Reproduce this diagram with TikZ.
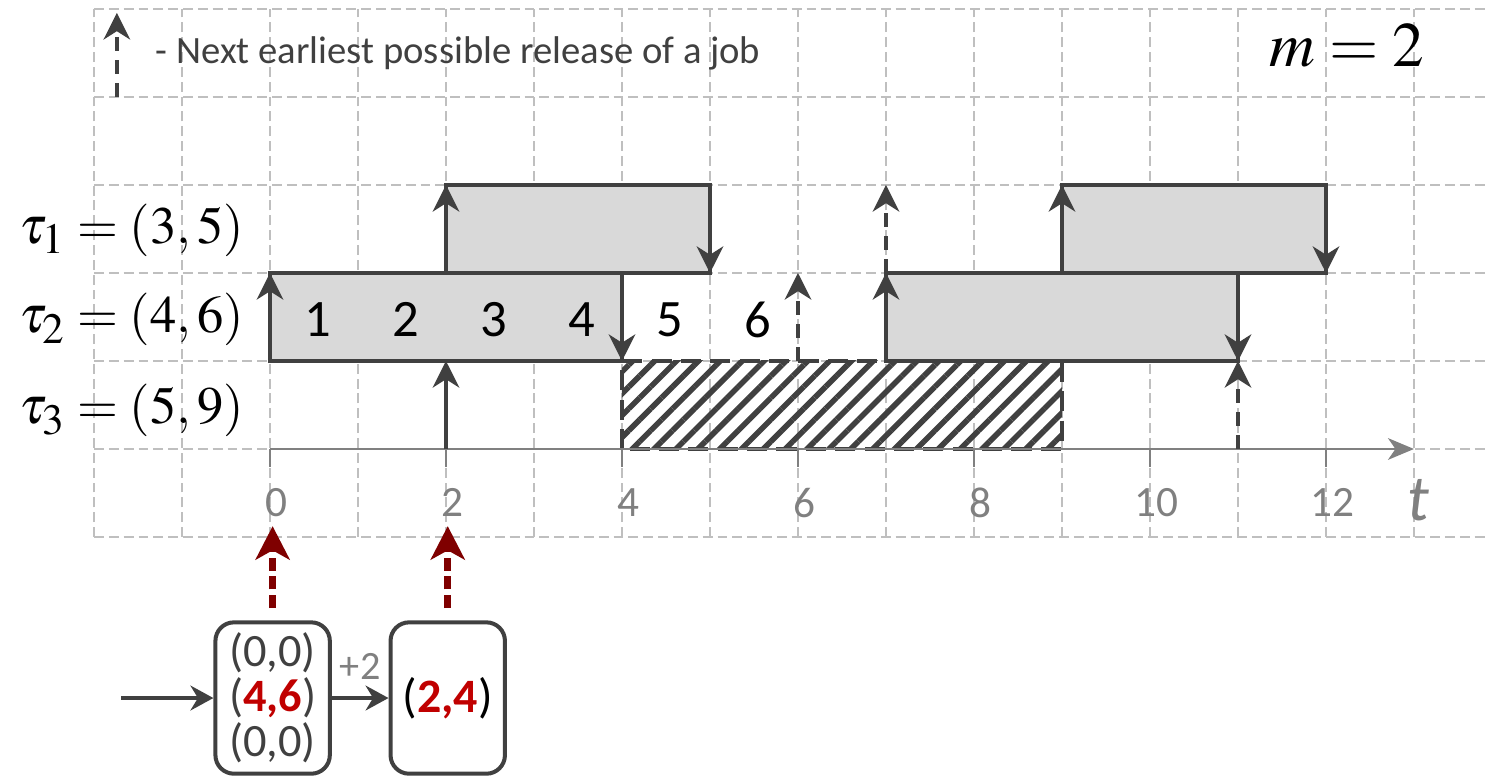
\documentclass[tikz,border=0pt]{standalone}
\usepackage{mathptmx}
\usepackage[no-math]{fontspec}
\setmainfont{Carlito}
\DeclareMathSizes{17}{17}{14}{10}
\usetikzlibrary{arrows.meta,patterns.meta,positioning}
\definecolor{ink}{HTML}{404040}
\definecolor{gridgray}{HTML}{BFBFBF}
\definecolor{axisgray}{HTML}{808080}
\definecolor{jobfill}{HTML}{D9D9D9}
\definecolor{darkred}{HTML}{7F0000}
\definecolor{hired}{HTML}{C00000}
\newcommand{\tasklab}[3]{{\fontsize{17}{20}\selectfont$\tau_{#1}=(#2{,}\,#3)$}}

\begin{document}
\begin{tikzpicture}[x=1cm,y=1cm,
  tip/.style={-{Stealth[length=8.6pt,width=8.6pt,inset=2.7pt]}},
  gridline/.style={gridgray,line width=0.7pt,dash pattern=on 3.2pt off 1.6pt},
  job/.style={draw=ink,line width=1.3pt,fill=jobfill},
  rel/.style={ink,line width=1.1pt,tip},
  nextrel/.style={rel,dash pattern=on 4.5pt off 3pt},
  state/.style={draw=ink,line width=1.3pt,rounded corners=6pt,minimum width=1.3cm,minimum height=1.72cm,align=center,inner sep=1pt,text=ink},
  flow/.style={ink,line width=1.3pt,-{Stealth[length=7.4pt,width=8pt,inset=2.4pt]}},
  jump/.style={darkred,line width=2.2pt,dash pattern=on 4.2pt off 1.8pt,-{Stealth[length=10.8pt,width=11pt,inset=3pt]}}]
\useasboundingbox (-3.068,-3.705) rectangle (13.841,5.102);
% grid
\foreach \y in {-1,...,5}{\draw[gridline] (-2,\y)--(13.841,\y);}
\foreach \x in {-2,...,13}{\draw[gridline] (\x,-1)--(\x,5);}
% blocked interval of tau_3
\fill[pattern={Lines[angle=45,distance=5pt,line width=1.8pt]},pattern color=ink] (4,0) rectangle (9,1);
\draw[ink,line width=1.3pt,dash pattern=on 6.5pt off 3pt] (4,0) rectangle (9,1);
% time axis
\draw[axisgray,line width=0.8pt,-{Stealth[length=8.4pt,width=7pt,inset=2.4pt]}] (0,0)--(13,0);
\foreach \x in {0,2,...,12}{\draw[axisgray,line width=0.9pt] (\x,0)--(\x,-0.2);
  \node[text=axisgray,font=\fontsize{14}{14}\selectfont] at (\x+0.07,-0.61){\x};}
\node[text=axisgray,font=\fontsize{21}{21}\selectfont\itshape] at (13.05,-0.58){t};
% jobs
\draw[job] (2,2) rectangle (5,3);
\draw[job] (9,2) rectangle (12,3);
\draw[job] (0,1) rectangle (4,2);
\draw[job] (7,1) rectangle (11,2);
\foreach \k in {1,...,6}{\node[font=\fontsize{17}{17}\selectfont] at (\k-0.46,1.47){\k};}
% releases and deadlines
\foreach \x/\y in {0/1,2/2,7/1,9/2,2/0}{\draw[rel] (\x,\y)--(\x,\y+1);}
\foreach \x/\y in {5/3,4/2,12/3,11/2}{\draw[rel] (\x,\y)--(\x,\y-1);}
\foreach \x/\y in {6/1,7/2,11/0}{\draw[nextrel] (\x,\y)--(\x,\y+1);}
% legend and labels
\draw[nextrel] (-1.74,4)--(-1.74,4.955);
\node[anchor=west,text=ink,font=\fontsize{12.5}{14}\selectfont] at (-1.42,4.5){- Next earliest possible release of a job};
\node[anchor=east,font=\fontsize{20.5}{24}\selectfont] at (13.24,4.58){$m=2$};
\node[anchor=west] at (-2.97,2.49){\tasklab{1}{3}{5}};
\node[anchor=west] at (-2.97,1.47){\tasklab{2}{4}{6}};
\node[anchor=west] at (-2.97,0.44){\tasklab{3}{5}{9}};
% states
\node[state,font=\fontsize{15}{14.5}\selectfont] (s0) at (0.03,-2.83){(0,0)\\(\textcolor{hired}{\bfseries 4,6})\\(0,0)};
\node[state,font=\fontsize{15.5}{16}\selectfont] (s1) at (2.02,-2.83){\textcolor{black}{(}\textcolor{hired}{\bfseries 2,4}\textcolor{black}{)}};
\coordinate (start) at (-1.69,-2.83);
\draw[flow] (start)--(s0);
\draw[flow] (s0)--node[above=2pt,text=axisgray,font=\fontsize{13}{13}\selectfont]{+2}(s1);
\draw[jump] ([yshift=0.14cm]s0.north)--++(0,0.93);
\draw[jump] ([yshift=0.14cm]s1.north)--++(0,0.93);
\end{tikzpicture}
\end{document}
